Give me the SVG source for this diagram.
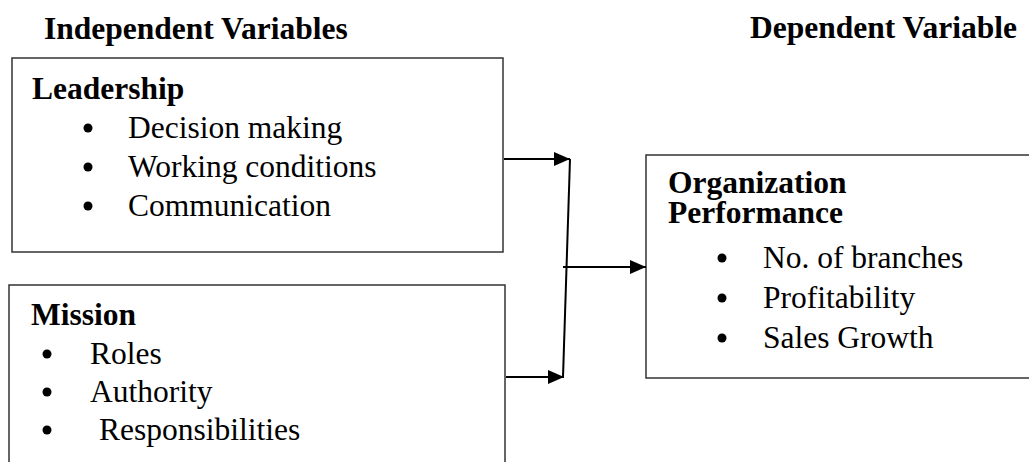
<svg xmlns="http://www.w3.org/2000/svg" width="1029" height="462" viewBox="0 0 1029 462">
<defs>
<style>
.box{fill:#fff;stroke:#333;stroke-width:1.5}
.h{font-family:"Liberation Serif","Times New Roman",serif;font-weight:bold;font-size:31.5px;fill:#000}
.t{font-family:"Liberation Serif","Times New Roman",serif;font-size:31.5px;fill:#000}
.b{fill:#000}
.c{stroke:#000;stroke-width:2;fill:none}
</style>
<marker id="ah" markerWidth="16" markerHeight="14" refX="16" refY="7" orient="auto" markerUnits="userSpaceOnUse">
<path d="M0,0 L16,7 L0,14 Z" fill="#000"/>
</marker>
</defs>
<rect width="1029" height="462" fill="#fff"/>
<g id="headers">
<text class="h" x="44" y="39">Independent Variables</text>
<text class="h" x="750" y="38">Dependent Variable</text>
</g>
<g id="leadership">
<rect class="box" x="12" y="58" width="491" height="194"/>
<text class="h" x="32" y="99">Leadership</text>
<circle class="b" cx="88" cy="128" r="4.5"/>
<text class="t" x="128" y="138">Decision making</text>
<circle class="b" cx="88" cy="167" r="4.5"/>
<text class="t" x="128" y="177">Working conditions</text>
<circle class="b" cx="88" cy="206" r="4.5"/>
<text class="t" x="128" y="216">Communication</text>
</g>
<g id="mission">
<rect class="box" x="9" y="285" width="496" height="190"/>
<text class="h" x="31" y="325">Mission</text>
<circle class="b" cx="47" cy="354" r="4.5"/>
<text class="t" x="90" y="364">Roles</text>
<circle class="b" cx="47" cy="392" r="4.5"/>
<text class="t" x="90" y="402">Authority</text>
<circle class="b" cx="47" cy="430" r="4.5"/>
<text class="t" x="99" y="440">Responsibilities</text>
</g>
<g id="performance">
<rect class="box" x="646" y="155" width="400" height="223"/>
<text class="h" x="668" y="193">Organization</text>
<text class="h" x="668" y="223">Performance</text>
<circle class="b" cx="722" cy="258" r="4.5"/>
<text class="t" x="763" y="268">No. of branches</text>
<circle class="b" cx="722" cy="298" r="4.5"/>
<text class="t" x="763" y="308">Profitability</text>
<circle class="b" cx="722" cy="338" r="4.5"/>
<text class="t" x="763" y="348">Sales Growth</text>
</g>
<g id="connectors">
<line class="c" x1="504" y1="159" x2="570" y2="159" marker-end="url(#ah)"/>
<line class="c" x1="506" y1="377" x2="564" y2="377" marker-end="url(#ah)"/>
<line class="c" x1="570" y1="159" x2="563" y2="377"/>
<line class="c" x1="563" y1="267" x2="646" y2="267" marker-end="url(#ah)"/>
</g>
</svg>
